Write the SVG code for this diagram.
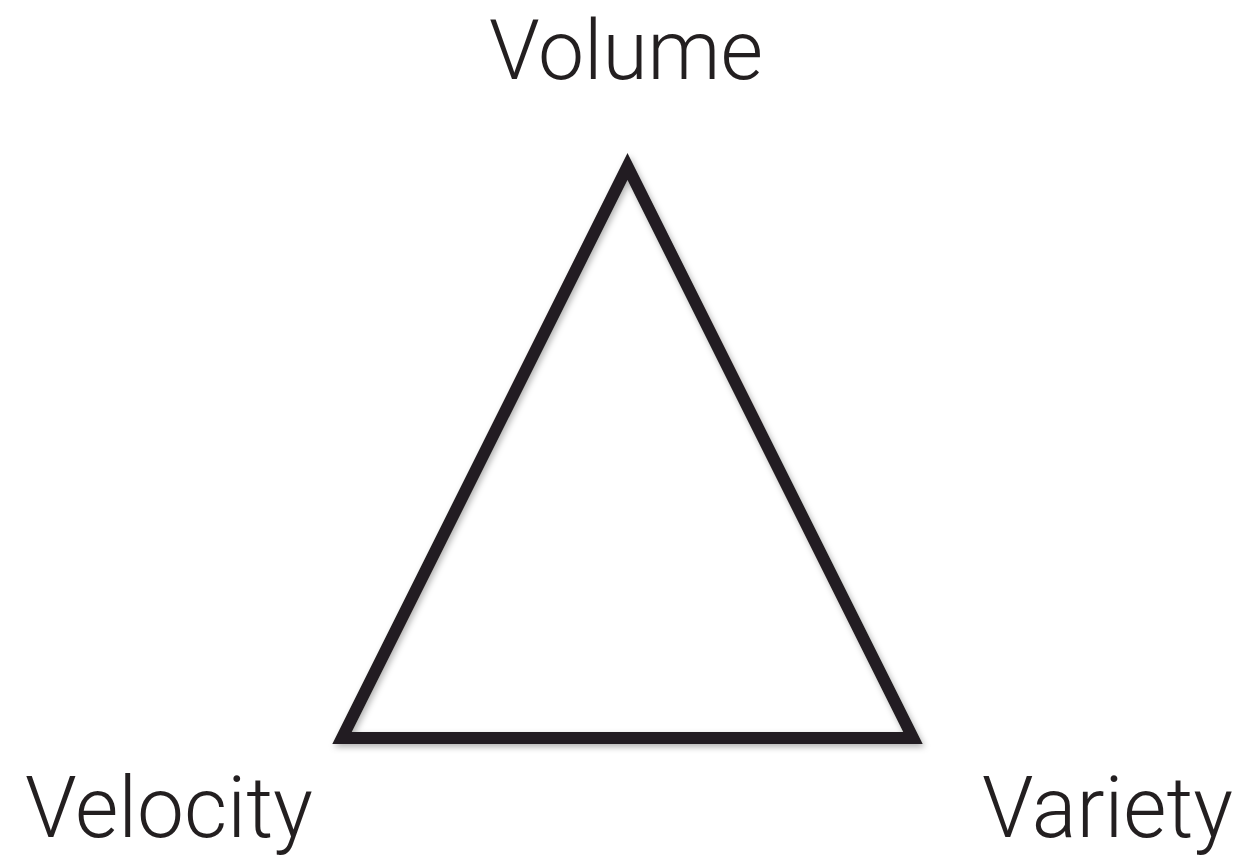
<svg xmlns="http://www.w3.org/2000/svg" width="1242" height="857" viewBox="0 0 1242 857">
<defs>
<style>
.lbl{font-family:Roboto,"Liberation Sans",sans-serif;font-weight:300;font-size:86px;fill:#231f20}
.tri{fill:none;stroke:#231f20;stroke-width:12;stroke-linejoin:miter;stroke-miterlimit:10}
</style>
<filter id="sh" x="-10%" y="-10%" width="120%" height="120%">
<feDropShadow dx="2" dy="3" stdDeviation="3" flood-color="#000" flood-opacity="0.3"/>
</filter>
</defs>
<rect width="1242" height="857" fill="#fff"/>
<g id="triangle">
<polygon class="tri" filter="url(#sh)" points="627.5,166.5 913,738 342,738"/>
</g>
<g id="volume"><text class="lbl" x="489" y="79" style="font-size:84px" textLength="274" lengthAdjust="spacingAndGlyphs">Volume</text></g>
<g id="velocity"><text class="lbl" x="25" y="837" textLength="288" lengthAdjust="spacingAndGlyphs">Velocity</text></g>
<g id="variety"><text class="lbl" x="982" y="837" textLength="251" lengthAdjust="spacingAndGlyphs">Variety</text></g>
<g id="connectors"></g>
</svg>
